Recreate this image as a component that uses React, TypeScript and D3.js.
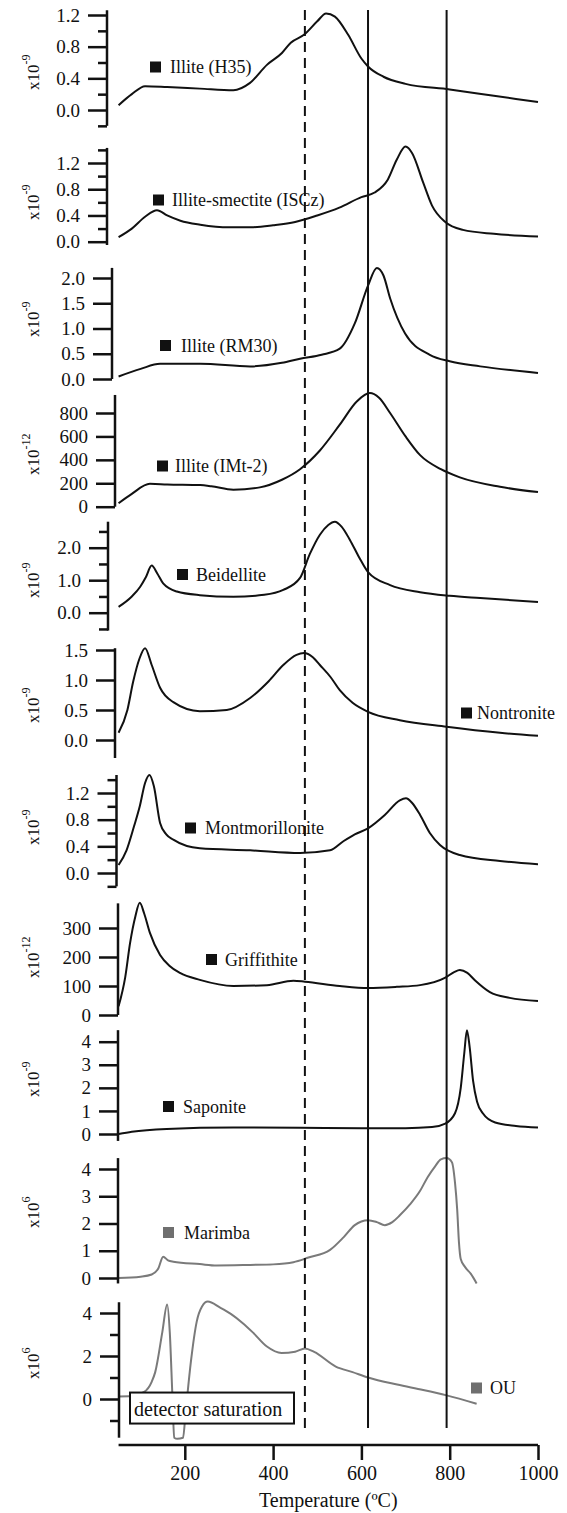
import React, { useEffect, useRef } from 'react';
import * as d3 from 'd3';

// Temperatures (ºC) and signals
const h35Temp = [50, 80, 110, 160, 234, 310, 347, 386, 420, 440, 470, 500, 520, 540, 570, 600, 615, 650, 700, 800, 900, 1000];
const h35Signal = [0.06, 0.2, 0.3, 0.29, 0.27, 0.25, 0.34, 0.57, 0.72, 0.85, 0.95, 1.12, 1.22, 1.18, 0.95, 0.65, 0.55, 0.42, 0.33, 0.26, 0.18, 0.1];

const iscTemp = [50, 80, 110, 137, 160, 190, 235, 300, 350, 400, 450, 500, 550, 600, 630, 660, 680, 700, 715, 740, 760, 790, 830, 900, 1000];
const iscSignal = [0.07, 0.2, 0.38, 0.48, 0.4, 0.32, 0.26, 0.22, 0.22, 0.25, 0.3, 0.4, 0.52, 0.68, 0.75, 0.95, 1.25, 1.45, 1.35, 0.9, 0.55, 0.3, 0.18, 0.12, 0.08];

const rm30Temp = [50, 100, 144, 235, 348, 420, 461, 510, 551, 585, 615, 635, 650, 665, 699, 755, 800, 869, 1000];
const rm30Signal = [0.05, 0.2, 0.3, 0.3, 0.25, 0.32, 0.4, 0.48, 0.6, 1.1, 1.85, 2.2, 2.05, 1.6, 0.9, 0.48, 0.35, 0.25, 0.12];

const imtTemp = [50, 80, 121, 160, 235, 260, 310, 370, 420, 461, 506, 551, 590, 619, 640, 665, 700, 733, 780, 823, 914, 1000];
const imtSignal = [30, 110, 195, 190, 185, 175, 145, 165, 230, 320, 480, 700, 900, 970, 930, 800, 600, 440, 320, 250, 170, 125];

const beiTemp = [50, 80, 99, 112, 125, 138, 151, 182, 234, 310, 380, 423, 461, 483, 506, 525, 540, 555, 574, 595, 615, 665, 733, 800, 869, 1000];
const beiSignal = [0.18, 0.5, 0.8, 1.1, 1.45, 1.2, 0.9, 0.65, 0.54, 0.49, 0.55, 0.7, 1.07, 1.8, 2.4, 2.7, 2.8, 2.65, 2.24, 1.7, 1.25, 0.85, 0.63, 0.52, 0.45, 0.33];

const nonTemp = [50, 70, 83, 97, 110, 125, 144, 174, 234, 295, 348, 390, 423, 453, 470, 490, 506, 530, 551, 580, 615, 687, 793, 914, 1000];
const nonSignal = [0.12, 0.5, 0.97, 1.35, 1.53, 1.25, 0.87, 0.63, 0.48, 0.5, 0.7, 0.98, 1.25, 1.42, 1.45, 1.38, 1.25, 1.05, 0.83, 0.62, 0.47, 0.33, 0.22, 0.12, 0.07];

const monTemp = [50, 68, 85, 98, 110, 120, 130, 144, 158, 174, 234, 348, 461, 529, 560, 585, 615, 653, 687, 701, 715, 733, 755, 778, 823, 914, 1000];
const monSignal = [0.12, 0.34, 0.7, 1.0, 1.35, 1.47, 1.3, 0.75, 0.58, 0.5, 0.37, 0.34, 0.3, 0.34, 0.48, 0.58, 0.67, 0.87, 1.09, 1.12, 1.05, 0.87, 0.6, 0.42, 0.27, 0.18, 0.13];

const griTemp = [50, 65, 76, 88, 98, 108, 121, 144, 165, 189, 234, 310, 386, 446, 472, 551, 615, 680, 733, 789, 810, 823, 840, 857, 891, 936, 1000];
const griSignal = [30, 130, 248, 340, 387, 350, 283, 207, 170, 145, 121, 100, 103, 118, 115, 100, 93, 97, 103, 128, 148, 155, 145, 120, 79, 59, 48];

const sapTemp = [50, 80, 159, 310, 461, 600, 700, 760, 790, 812, 825, 833, 839, 845, 853, 862, 875, 903, 950, 1000];
const sapSignal = [0, 0.1, 0.22, 0.28, 0.27, 0.25, 0.25, 0.3, 0.45, 0.9, 2.0, 3.5, 4.5, 3.8, 2.3, 1.4, 0.9, 0.5, 0.35, 0.28];

const marTemp = [50, 100, 125, 140, 151, 162, 174, 234, 272, 348, 400, 446, 480, 529, 560, 585, 615, 635, 653, 670, 687, 710, 733, 750, 767, 780, 793, 805, 812, 817, 821, 825, 835, 848, 861];
const marSignal = [0, 0.05, 0.13, 0.35, 0.78, 0.65, 0.6, 0.51, 0.46, 0.48, 0.5, 0.58, 0.75, 1.03, 1.5, 1.94, 2.12, 2.05, 1.94, 2.05, 2.3, 2.7, 3.2, 3.7, 4.1, 4.35, 4.4, 4.25, 3.5, 2.5, 1.3, 0.7, 0.4, 0.15, -0.2];

const ouTemp = [50, 80, 108, 125, 133, 149, 160, 166, 172, 176, 183, 196, 202, 214, 227, 239, 252, 280, 305, 330, 354, 386, 419, 450, 472, 493, 542, 580, 615, 681, 740, 793, 861];
const ouSignal = [0.12, 0.14, 0.33, 0.8, 1.25, 3.1, 4.4, 3.1, 0.1, -1.8, -1.85, -1.8, -0.6, 1.77, 3.6, 4.3, 4.53, 4.25, 3.95, 3.55, 3.1, 2.44, 2.14, 2.2, 2.35, 2.19, 1.51, 1.25, 1.0, 0.67, 0.42, 0.17, -0.22];

// tick values
const xTicks = [200, 400, 600, 800, 1000];
const markerTemps = [472, 615, 793]; // dashed, solid, solid

const W = 567;
const H = 1513;
const BLACK = '#111';
const GREY = '#7a7a7a';
const SERIF = "'Liberation Serif', 'DejaVu Serif', 'Noto Serif', serif";

// layout of each stacked panel: cal = two [value, pixel] pairs
const panels = [
  { name: 'Illite (H35)', temp: h35Temp, signal: h35Signal, exp: '-9', cal: [[0, 110], [1.2, 15]], axis: [-0.2, 1.26], axisX: 107, major: [0, 0.4, 0.8, 1.2], minor: [-0.2, 0.2, 0.6, 1.0], fmt: '.1f', lab: [150, 67, 170], expY: 90, color: BLACK },
  { name: 'Illite-smectite (ISCz)', temp: iscTemp, signal: iscSignal, exp: '-9', cal: [[0, 241.7], [1.2, 163]], axis: [-0.05, 1.43], axisX: 107, major: [0, 0.4, 0.8, 1.2], minor: [0.2, 0.6, 1.0, 1.4], fmt: '.1f', lab: [153, 200, 172], expY: 220, color: BLACK },
  { name: 'Illite (RM30)', temp: rm30Temp, signal: rm30Signal, exp: '-9', cal: [[0, 379], [2, 278]], axis: [0, 2.2], axisX: 112, major: [0, 0.5, 1.0, 1.5, 2.0], minor: [], fmt: '.1f', lab: [160, 345.5, 181], expY: 337, color: BLACK },
  { name: 'Illite (IMt-2)', temp: imtTemp, signal: imtSignal, exp: '-12', cal: [[0, 506.7], [800, 413]], axis: [0, 954], axisX: 115, major: [0, 200, 400, 600, 800], minor: [], fmt: 'd', lab: [157, 466, 175], expY: 475, color: BLACK },
  { name: 'Beidellite', temp: beiTemp, signal: beiSignal, exp: '-9', cal: [[0, 612.7], [2, 547.7]], axis: [-0.55, 2.8], axisX: 108, major: [0, 1, 2], minor: [-0.5, 0.5, 1.5, 2.5], fmt: '.1f', lab: [177, 574.5, 196], expY: 598, color: BLACK },
  { name: 'Nontronite', temp: nonTemp, signal: nonSignal, exp: '-9', cal: [[0, 740], [1.5, 650]], axis: [-0.3, 1.53], axisX: 115, major: [0, 0.5, 1.0, 1.5], minor: [], fmt: '.1f', lab: [461, 713, 477], expY: 723, color: BLACK },
  { name: 'Montmorillonite', temp: monTemp, signal: monSignal, exp: '-9', cal: [[0, 873], [1.2, 793]], axis: [-0.2, 1.47], axisX: 116.5, major: [0, 0.4, 0.8, 1.2], minor: [-0.2, 0.2, 0.6, 1.0, 1.4], fmt: '.1f', lab: [185, 828, 205], expY: 845, color: BLACK },
  { name: 'Griffithite', temp: griTemp, signal: griSignal, exp: '-12', cal: [[0, 1015], [300, 928]], axis: [0, 385], axisX: 118, major: [0, 100, 200, 300], minor: [], fmt: 'd', lab: [206, 959.5, 225], expY: 978, color: BLACK },
  { name: 'Saponite', temp: sapTemp, signal: sapSignal, exp: '-9', cal: [[0, 1134], [4, 1041.7]], axis: [-0.3, 4.5], axisX: 118, major: [0, 1, 2, 3, 4], minor: [], fmt: 'd', lab: [163, 1106.5, 183], expY: 1097, color: BLACK },
  { name: 'Marimba', temp: marTemp, signal: marSignal, exp: '6', cal: [[0, 1278], [4, 1169]], axis: [-0.2, 4.4], axisX: 118, major: [0, 1, 2, 3, 4], minor: [], fmt: 'd', lab: [163, 1232.5, 184], expY: 1228, color: GREY },
  { name: 'OU', temp: ouTemp, signal: ouSignal, exp: '6', cal: [[0, 1399], [4, 1313]], axis: [-1.8, 4.5], axisX: 119, major: [0, 2, 4], minor: [-1, 1, 3], fmt: 'd', lab: [471, 1388, 490], expY: 1379, color: GREY },
];

export default function App() {
  const svgRef = useRef<SVGSVGElement>(null);

  useEffect(() => {
    const svg = d3.select(svgRef.current);
    svg.selectAll('*').remove();

    const x = d3.scaleLinear().domain([0, 1000]).range([96.5, 538]);

    panels.forEach(p => {
      const y = d3.scaleLinear()
        .domain([p.cal[0][0], p.cal[1][0]])
        .range([p.cal[0][1], p.cal[1][1]]);
      const g = svg.append('g');

      // curve
      const pts = p.temp.map((t, i) => [t, p.signal[i]] as [number, number]);
      const line = d3.line<[number, number]>()
        .x(d => x(d[0]))
        .y(d => y(d[1]))
        .curve(d3.curveMonotoneX);
      g.append('path')
        .attr('d', line(pts))
        .attr('fill', 'none')
        .attr('stroke', p.color)
        .attr('stroke-width', 2)
        .attr('stroke-linejoin', 'round');

      // y axis
      g.append('line')
        .attr('x1', p.axisX).attr('x2', p.axisX)
        .attr('y1', y(p.axis[0])).attr('y2', y(p.axis[1]))
        .attr('stroke', BLACK).attr('stroke-width', 2.5);

      const major = g.append('g')
        .attr('transform', `translate(${p.axisX},0)`)
        .call(d3.axisLeft(y).tickValues(p.major).tickSize(19).tickPadding(8)
          .tickFormat(d3.format(p.fmt)));
      major.select('.domain').remove();
      major.attr('font-family', SERIF).attr('font-size', 19);
      major.selectAll('line').attr('stroke', BLACK).attr('stroke-width', 2.5);
      major.selectAll('text').attr('fill', BLACK);

      if (p.minor.length) {
        const minor = g.append('g')
          .attr('transform', `translate(${p.axisX},0)`)
          .call(d3.axisLeft(y).tickValues(p.minor).tickSize(9).tickFormat(() => ''));
        minor.select('.domain').remove();
        minor.selectAll('line').attr('stroke', BLACK).attr('stroke-width', 2.5);
      }

      // exponent label
      const ex = g.append('text')
        .attr('transform', `translate(39,${p.expY}) rotate(-90)`)
        .attr('font-family', SERIF)
        .attr('font-size', 17)
        .attr('fill', BLACK);
      ex.append('tspan').text('x10');
      ex.append('tspan').attr('dy', -9).attr('font-size', 12).text(p.exp);

      // sample label
      g.append('rect')
        .attr('x', p.lab[0]).attr('y', p.lab[1] - 5.5)
        .attr('width', 11).attr('height', 11)
        .attr('fill', p.color === GREY ? '#6f6f6f' : BLACK);
      g.append('text')
        .attr('x', p.lab[2]).attr('y', p.lab[1] + 6)
        .attr('font-family', SERIF).attr('font-size', 18)
        .attr('fill', BLACK)
        .text(p.name);
    });

    // detector saturation box (covers the clipped trace)
    const ouPanel = panels[panels.length - 1];
    const yOu = d3.scaleLinear().domain([0, 4]).range([ouPanel.cal[0][1], ouPanel.cal[1][1]]);
    svg.append('rect')
      .attr('x', 130).attr('y', yOu(0.3))
      .attr('width', 164).attr('height', 31)
      .attr('fill', '#fff').attr('stroke', BLACK).attr('stroke-width', 2);
    svg.append('text')
      .attr('x', 134).attr('y', yOu(0.3) + 23)
      .attr('font-family', SERIF).attr('font-size', 20)
      .attr('fill', BLACK)
      .text('detector saturation');

    // event markers
    markerTemps.forEach((t, i) => {
      svg.append('line')
        .attr('x1', x(t)).attr('x2', x(t))
        .attr('y1', 10).attr('y2', 1428)
        .attr('stroke', BLACK).attr('stroke-width', 2)
        .attr('stroke-dasharray', i === 0 ? '10,6' : null);
    });

    // x axis
    const axisY = 1445;
    svg.append('line')
      .attr('x1', x(50)).attr('x2', x(1000))
      .attr('y1', axisY).attr('y2', axisY)
      .attr('stroke', BLACK).attr('stroke-width', 2.5);
    const xa = svg.append('g')
      .attr('transform', `translate(0,${axisY})`)
      .call(d3.axisBottom(x).tickValues(xTicks).tickSize(15).tickPadding(6).tickFormat(d3.format('d')));
    xa.select('.domain').remove();
    xa.attr('font-family', SERIF).attr('font-size', 20);
    xa.selectAll('line').attr('stroke', BLACK).attr('stroke-width', 2.5);
    xa.selectAll('text').attr('fill', BLACK);

    svg.append('text')
      .attr('x', (x(50) + x(1000)) / 2).attr('y', 1507)
      .attr('text-anchor', 'middle')
      .attr('font-family', SERIF).attr('font-size', 20)
      .attr('fill', BLACK)
      .text('Temperature (ºC)');
  }, []);

  return (
    <svg
      ref={svgRef}
      width={W}
      height={H}
      style={{ position: 'absolute', left: 0, top: 0, background: '#fff' }}
    />
  );
}
